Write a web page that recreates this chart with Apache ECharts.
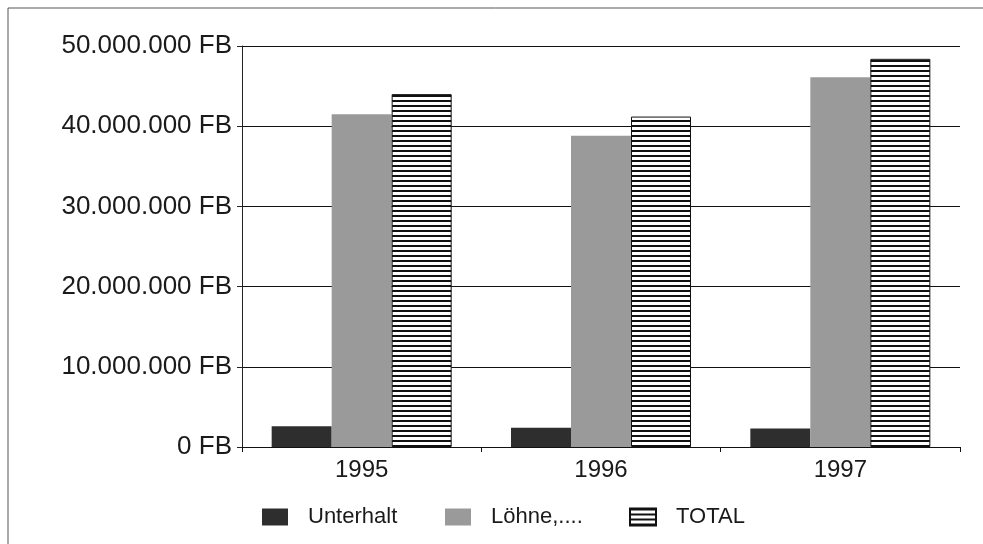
<!DOCTYPE html>
<html>
<head>
    <title>ECharts</title>
	<meta charset="utf-8">
	<style>
		html, body { margin: 0; padding: 0; background: #fff; }
		#main { width: 983px; height: 544px; }
	</style>
</head>
<body>
    <div id="main"></div>
    <script type="text/javascript" src="https://cdn.jsdelivr.net/npm/echarts@6/dist/echarts.min.js"></script>
    <script type="text/javascript">
	// Daten
	var jahre = ['1995', '1996', '1997'];
	var unterhalt = [2600000, 2400000, 2300000];
	var loehne = [41500000, 38800000, 46100000];
	var total = [44000000, 41200000, 48400000];
	var serienNamen = ['Unterhalt', 'Löhne,....', 'TOTAL'];

	// Schraffur fuer TOTAL (horizontale Linien)
	var streifen = document.createElement('canvas');
	streifen.width = 8;
	streifen.height = 5;
	var ctx = streifen.getContext('2d');
	ctx.fillStyle = '#fff';
	ctx.fillRect(0, 0, 8, 5);
	ctx.fillStyle = '#111';
	ctx.fillRect(0, 0, 8, 2);

	var schrift = '"Liberation Sans", Arial, sans-serif';

	function fb(v) {
		return String(v).replace(/\B(?=(\d{3})+(?!\d))/g, '.') + ' FB';
	}

	function legende(name, x) {
		return {
			data: [name],
			left: x,
			top: 505,
			padding: 0,
			icon: 'rect',
			itemWidth: 26,
			itemHeight: 17,
			selectedMode: false,
			textStyle: {
				fontFamily: schrift,
				fontSize: 22,
				lineHeight: 24,
				color: '#1a1a1a',
				padding: [0, 0, 0, 15]
			}
		};
	}

	var myChart = echarts.init(document.getElementById('main'));

	var option = {
		backgroundColor: '#fff',
		animation: false,
		grid: {
			left: 242,
			right: 23,
			top: 46,
			bottom: 97
		},
		legend: [
			legende(serienNamen[0], 262),
			legende(serienNamen[1], 445),
			legende(serienNamen[2], 629)
		],
		xAxis: {
			type: 'category',
			data: jahre,
			axisLine: { lineStyle: { color: '#111', width: 1 } },
			axisTick: { show: true, length: 5, lineStyle: { color: '#111' } },
			axisLabel: {
				fontFamily: schrift,
				fontSize: 24,
				color: '#1a1a1a',
				margin: 11
			}
		},
		yAxis: {
			type: 'value',
			min: 0,
			max: 50000000,
			interval: 10000000,
			axisLine: { show: true, lineStyle: { color: '#222', width: 1 } },
			axisTick: { show: true, length: 5, lineStyle: { color: '#222' } },
			splitLine: { lineStyle: { color: '#111', width: 1 } },
			axisLabel: {
				fontFamily: schrift,
				fontSize: 26,
				color: '#1a1a1a',
				margin: 10,
				formatter: fb
			}
		},
		graphic: [
			{ type: 'line', shape: { x1: 8, y1: 8, x2: 983, y2: 8 }, style: { stroke: '#555', lineWidth: 1 } },
			{ type: 'line', shape: { x1: 8, y1: 8, x2: 8, y2: 544 }, style: { stroke: '#555', lineWidth: 1 } }
		],
		series: [
			{
				name: serienNamen[0],
				type: 'bar',
				data: unterhalt,
				barWidth: 60,
				barGap: '0%',
				itemStyle: { color: '#2e2e2e' }
			},
			{
				name: serienNamen[1],
				type: 'bar',
				data: loehne,
				barWidth: 60,
				barGap: '0%',
				itemStyle: { color: '#9a9a9a' }
			},
			{
				name: serienNamen[2],
				type: 'bar',
				data: total,
				barWidth: 60,
				barGap: '0%',
				itemStyle: {
					color: { image: streifen, repeat: 'repeat' },
					borderColor: '#111',
					borderWidth: 1
				}
			}
		]
	};

	myChart.setOption(option);
    </script>
</body>
</html>
